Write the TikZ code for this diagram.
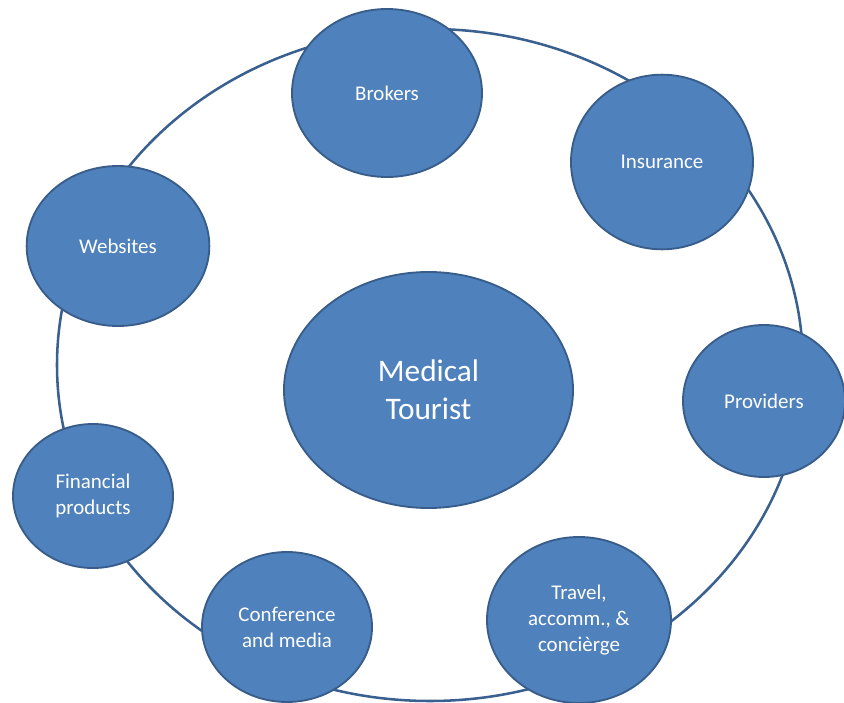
\documentclass[tikz,border=0pt]{standalone}
\usepackage{fontspec}
\setmainfont{Carlito}
\usepackage{xcolor}
\usetikzlibrary{shapes,positioning}
\definecolor{bubblefill}{HTML}{4F81BD}
\definecolor{bubbleline}{HTML}{385D8A}
\definecolor{ringline}{HTML}{3A6090}

\begin{document}
\begin{tikzpicture}[
    x=0.75pt, y=-0.75pt,
    bubble/.style={ellipse, draw=bubbleline, line width=1.4pt, fill=bubblefill, inner sep=0pt,
        text=white, align=center, font=\fontsize{15.7}{19.5}\selectfont},
    ring/.style={ellipse, draw=ringline, line width=1.9pt, inner sep=0pt}
]
    \useasboundingbox (0,0) rectangle (844,703);

    % outer ring
    \node[ring, minimum width=559.5pt, minimum height=504pt] (ring) at (430,365) {};

    % centre
    \node[bubble, minimum width=216.75pt, minimum height=177pt,
          font=\fontsize{23.5}{28.5}\selectfont] (tourist) at (428.5,390) {Medical\\Tourist};

    % bubbles on the ring
    \node[bubble, minimum width=142.5pt, minimum height=126pt] (brokers) at (387,93) {Brokers};
    \node[bubble, minimum width=136.5pt, minimum height=131pt] (insurance) at (662,162) {Insurance};
    \node[bubble, minimum width=137pt, minimum height=120pt] (websites) at (118,246) {Websites};
    \node[bubble, minimum width=121.5pt, minimum height=114pt] (providers) at (764,401) {Providers};
    \node[bubble, minimum width=120pt, minimum height=108pt] (financial) at (93,496) {Financial\\products};
    \node[bubble, minimum width=127.5pt, minimum height=112.5pt] (conference) at (287,627) {Conference\\and media};
    \node[bubble, minimum width=138pt, minimum height=124.5pt] (travel) at (579,620) {Travel,\\accomm., \&\\concièrge};
\end{tikzpicture}
\end{document}
